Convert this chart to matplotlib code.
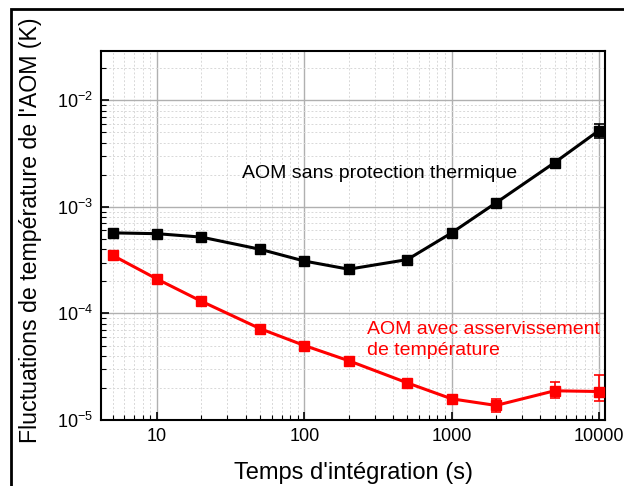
import matplotlib
matplotlib.use("agg")
import matplotlib.pyplot as plt
from matplotlib.patches import Rectangle
from matplotlib.ticker import LogLocator, FixedLocator, FixedFormatter, NullFormatter

plt.rcParams['font.family'] = ['Liberation Sans', 'DejaVu Sans']
plt.rcParams['mathtext.fontset'] = 'custom'
plt.rcParams['mathtext.rm'] = 'Liberation Sans'
plt.rcParams['mathtext.it'] = 'Liberation Sans'
plt.rcParams['mathtext.bf'] = 'Liberation Sans'
plt.rcParams['axes.unicode_minus'] = False

# integration times (s)
tau = [5, 10, 20, 50, 100, 200, 500, 1000, 2000, 5000, 10000]

# AOM without thermal protection
black_vals = [5.7e-4, 5.6e-4, 5.2e-4, 4.0e-4, 3.1e-4, 2.6e-4, 3.2e-4, 5.7e-4, 1.09e-3, 2.6e-3, 5.2e-3]
black_lo = [0.3e-4, 0.3e-4, 0.3e-4, 0.2e-4, 0.15e-4, 0.12e-4, 0.15e-4, 0.3e-4, 0.06e-3, 0.2e-3, 0.8e-3]
black_hi = [0.3e-4, 0.3e-4, 0.3e-4, 0.2e-4, 0.15e-4, 0.12e-4, 0.15e-4, 0.3e-4, 0.06e-3, 0.2e-3, 0.8e-3]

# AOM with temperature control
red_vals = [3.5e-4, 2.1e-4, 1.3e-4, 7.2e-5, 5.0e-5, 3.6e-5, 2.23e-5, 1.58e-5, 1.37e-5, 1.88e-5, 1.85e-5]
red_lo = [0.1e-4, 0.05e-4, 0.03e-4, 0.2e-5, 0.1e-5, 0.08e-5, 0.1e-5, 0.08e-5, 0.17e-5, 0.26e-5, 0.33e-5]
red_hi = [0.1e-4, 0.05e-4, 0.03e-4, 0.2e-5, 0.1e-5, 0.08e-5, 0.1e-5, 0.08e-5, 0.2e-5, 0.4e-5, 0.77e-5]

xticks = [10, 100, 1000, 10000]
xticklabels = ["10", "100", "1000", "10000"]

fig = plt.figure(figsize=(6.24, 4.86), dpi=100)
ax = fig.add_axes([101 / 624, 1 - 420 / 486, 504 / 624, 369 / 486])

ax.errorbar(tau, black_vals, yerr=[black_lo, black_hi], color="black", lw=2.2, marker="s",
            ms=7, capsize=3.5, elinewidth=1.2, capthick=1.2, zorder=3)
ax.errorbar(tau, red_vals, yerr=[red_lo, red_hi], color="#ff0000", lw=2.2, marker="s",
            ms=7, capsize=3.5, elinewidth=1.2, capthick=1.2, zorder=3)

ax.set_xscale("log")
ax.set_yscale("log")
ax.set_xlim(4.16, 11000)
ax.set_ylim(1e-5, 2.9e-2)

ax.xaxis.set_major_locator(FixedLocator(xticks))
ax.xaxis.set_major_formatter(FixedFormatter(xticklabels))
ax.xaxis.set_minor_locator(LogLocator(base=10, subs=range(2, 10), numticks=20))
ax.xaxis.set_minor_formatter(NullFormatter())
ax.yaxis.set_major_locator(LogLocator(base=10, numticks=10))
ax.yaxis.set_minor_locator(LogLocator(base=10, subs=range(2, 10), numticks=20))
ax.yaxis.set_minor_formatter(NullFormatter())

ax.grid(True, which="major", color="#b0b0b0", lw=1.0, ls="-")
ax.grid(True, which="minor", color="#d8d8d8", lw=0.7, ls=(0, (2, 2)))
ax.set_axisbelow(True)

ax.tick_params(which="both", direction="in", top=False, right=False, labelsize=13)
ax.tick_params(which="major", length=6, width=1.2, pad=6)
ax.tick_params(which="minor", length=3.5, width=0.8)
for s in ax.spines.values():
    s.set_linewidth(1.5)

ax.set_xlabel("Temps d'intégration (s)", fontsize=17)
ax.set_ylabel("Fluctuations de température de l'AOM (K)", fontsize=16.7)
ax.xaxis.set_label_coords(0.5, -0.115)
ax.yaxis.set_label_coords(-0.117, 0.515)

ax.text(242 / 624, 1 - 173 / 486, "AOM sans protection thermique", transform=fig.transFigure,
        fontsize=14, color="black", va="center", ha="left")
ax.text(367 / 624, 1 - 340 / 486, "AOM avec asservissement\nde température", transform=fig.transFigure,
        fontsize=14, color="#ff0000", va="center", ha="left", linespacing=1.35)

# outer frame around the figure
fig.patches.append(Rectangle((11 / 624, -0.1), 1.2, 1 - 9 / 486 + 0.1, transform=fig.transFigure,
                             fill=False, edgecolor="black", lw=2.0, clip_on=False))

fig.savefig("out.png", dpi=100)
